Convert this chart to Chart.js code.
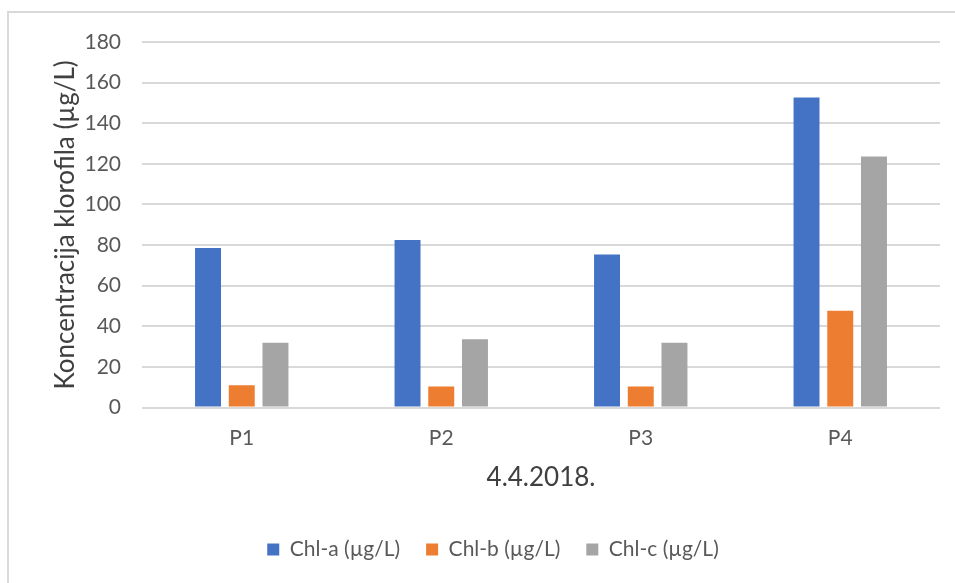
<!DOCTYPE html>
<html>
<head>
<meta charset="utf-8">
<script src="https://cdn.jsdelivr.net/npm/chart.js@4"></script>
<style>
  html, body { margin: 0; padding: 0; background: #ffffff; overflow: hidden; }
  #wrap { position: relative; width: 955px; height: 583px; }
  #frame { position: absolute; left: 7px; top: 11px; width: 960px; height: 590px; border: 2px solid #d9d9d9; box-sizing: border-box; pointer-events: none; }
  canvas { position: absolute; left: 0; top: 0; }
</style>
</head>
<body>
<div id="wrap">
  <canvas id="c" width="955" height="583"></canvas>
  <div id="frame"></div>
</div>
<script>
const categories = ['P1', 'P2', 'P3', 'P4'];
const chlA = [78.6, 82.5, 75.4, 152.7];
const chlB = [11.0, 10.4, 10.4, 47.7];
const chlC = [31.9, 33.7, 31.9, 123.6];
const seriesNames = ['Chl-a (µg/L)', 'Chl-b (µg/L)', 'Chl-c (µg/L)'];
const yTicks = [0, 20, 40, 60, 80, 100, 120, 140, 160, 180];
const xTitle = '4.4.2018.';
const yTitle = 'Koncentracija klorofila (µg/L)';

Chart.defaults.font.family = 'Lato, "Open Sans", sans-serif';
Chart.defaults.color = '#595959';

new Chart(document.getElementById('c'), {
  type: 'bar',
  data: {
    labels: categories,
    datasets: [
      { label: seriesNames[0], data: chlA, backgroundColor: '#4472C4' },
      { label: seriesNames[1], data: chlB, backgroundColor: '#ED7D31' },
      { label: seriesNames[2], data: chlC, backgroundColor: '#A5A5A5' }
    ]
  },
  options: {
    responsive: false,
    devicePixelRatio: 1,
    animation: false,
    datasets: { bar: { categoryPercentage: 0.507, barPercentage: 0.77 } },
    layout: { padding: { left: 46, right: 15, top: 42, bottom: 13 } },
    plugins: {
      tooltip: { enabled: false },
      legend: {
        position: 'bottom',
        labels: {
          boxWidth: 12, boxHeight: 12, padding: 26,
          font: { size: 21 }, color: '#595959'
        }
      }
    },
    scales: {
      x: {
        grid: { display: false, drawTicks: false },
        border: { display: false },
        ticks: { padding: 18, font: { size: 21 }, color: '#595959' },
        title: { display: true, text: xTitle, font: { size: 26 }, color: '#404040', padding: { top: -7, bottom: 20 } }
      },
      y: {
        min: 0, max: 180,
        afterBuildTicks: (s) => { s.ticks = yTicks.map(v => ({ value: v })); },
        afterFit: (s) => { s.width = 96; },
        grid: { color: '#d9d9d9', lineWidth: 2, drawTicks: false },
        border: { display: false },
        ticks: { padding: 21, font: { size: 21 }, color: '#595959' },
        title: { display: true, text: yTitle, font: { size: 26 }, color: '#404040', padding: { top: 4, bottom: 4 } }
      }
    }
  }
});
</script>
</body>
</html>
